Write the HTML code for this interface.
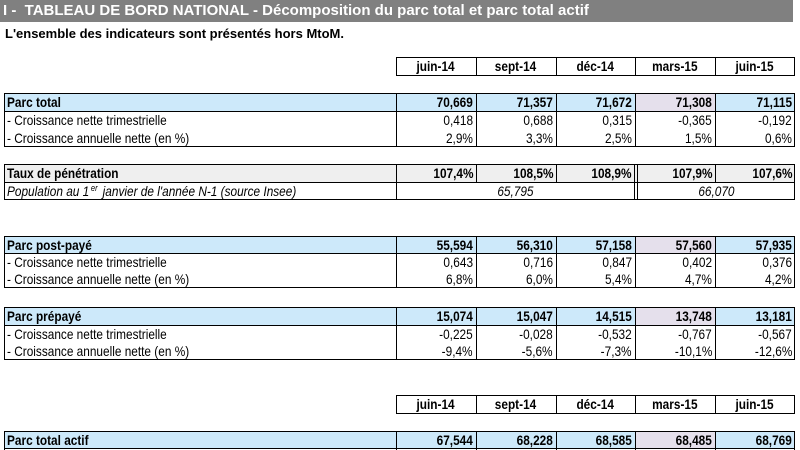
<!DOCTYPE html>
<html><head><meta charset="utf-8"><style>
html,body{margin:0;padding:0;background:#fff}
body{width:800px;height:450px;position:relative;overflow:hidden;font-family:"Liberation Sans",Arial,sans-serif;color:#000}
.bg{position:absolute}
.h{position:absolute;height:1px;background:#000}
.v{position:absolute;width:1px;background:#000}
.c{position:absolute;box-sizing:border-box;height:18px;line-height:18px;font-size:14px;white-space:nowrap}
.L{padding-left:3px;text-align:left}
.L span{display:inline-block;transform:scaleX(.845);transform-origin:0 50%}
.R{text-align:right;padding-right:3px}
.R span{display:inline-block;transform:scaleX(.845);transform-origin:100% 50%}
.M{text-align:center}
.M span{display:inline-block;transform:scaleX(.845);transform-origin:50% 50%}
.b{font-weight:bold}
.i{font-style:italic}
sup{font-size:9px;line-height:0;vertical-align:5px;margin-left:2px;margin-right:2px}
.w80{width:80px}.w79{width:79px}
</style></head><body>

<!-- Title bar -->
<div class="bg" style="left:0;top:0;width:793px;height:22px;background:#808080"></div>
<div style="position:absolute;left:3px;top:1px;font-size:15px;line-height:20px;font-weight:bold;color:#fff;white-space:nowrap">I -&nbsp; TABLEAU DE BORD NATIONAL - Décomposition du parc total et parc total actif</div>
<div style="position:absolute;left:5px;top:26px;font-size:13px;line-height:15px;font-weight:bold;white-space:nowrap">L'ensemble des indicateurs sont présentés hors MtoM.</div>

<!-- Header 1 -->
<div class="h" style="left:396px;top:57px;width:399px"></div>
<div class="h" style="left:396px;top:75px;width:399px"></div>
<div class="v" style="left:396px;top:57px;height:19px"></div>
<div class="v" style="left:476px;top:57px;height:19px"></div>
<div class="v" style="left:556px;top:57px;height:19px"></div>
<div class="v" style="left:635px;top:57px;height:19px"></div>
<div class="v" style="left:715px;top:57px;height:19px"></div>
<div class="v" style="left:794px;top:57px;height:19px"></div>
<div class="c M b w80" style="left:396px;top:57px"><span>juin-14</span></div>
<div class="c M b w80" style="left:476px;top:57px"><span>sept-14</span></div>
<div class="c M b w79" style="left:556px;top:57px"><span>déc-14</span></div>
<div class="c M b w80" style="left:635px;top:57px"><span>mars-15</span></div>
<div class="c M b w80" style="left:715px;top:57px"><span>juin-15</span></div>

<!-- Table 1: Parc total -->
<div class="bg" style="left:4px;top:93px;width:791px;height:18px;background:#cde9fa"></div>
<div class="bg" style="left:635px;top:93px;width:80px;height:18px;background:#e5e0ec"></div>
<div class="h" style="left:4px;top:93px;width:791px"></div>
<div class="h" style="left:4px;top:111px;width:791px"></div>
<div class="h" style="left:4px;top:146px;width:791px"></div>
<div class="v" style="left:4px;top:93px;height:54px"></div>
<div class="v" style="left:396px;top:93px;height:54px"></div>
<div class="v" style="left:476px;top:93px;height:54px"></div>
<div class="v" style="left:556px;top:93px;height:54px"></div>
<div class="v" style="left:635px;top:93px;height:54px"></div>
<div class="v" style="left:715px;top:93px;height:54px"></div>
<div class="v" style="left:794px;top:93px;height:54px"></div>
<div class="c L b" style="left:4px;top:93px;width:392px"><span>Parc total</span></div>
<div class="c R b w80" style="left:396px;top:93px"><span>70,669</span></div>
<div class="c R b w80" style="left:476px;top:93px"><span>71,357</span></div>
<div class="c R b w79" style="left:556px;top:93px"><span>71,672</span></div>
<div class="c R b w80" style="left:635px;top:93px"><span>71,308</span></div>
<div class="c R b w80" style="left:715px;top:93px"><span>71,115</span></div>
<div class="c L" style="left:4px;top:111px;width:392px"><span>- Croissance nette trimestrielle</span></div>
<div class="c R w80" style="left:396px;top:111px"><span>0,418</span></div>
<div class="c R w80" style="left:476px;top:111px"><span>0,688</span></div>
<div class="c R w79" style="left:556px;top:111px"><span>0,315</span></div>
<div class="c R w80" style="left:635px;top:111px"><span>-0,365</span></div>
<div class="c R w80" style="left:715px;top:111px"><span>-0,192</span></div>
<div class="c L" style="left:4px;top:129px;width:392px"><span>- Croissance annuelle nette (en %)</span></div>
<div class="c R w80" style="left:396px;top:129px"><span>2,9%</span></div>
<div class="c R w80" style="left:476px;top:129px"><span>3,3%</span></div>
<div class="c R w79" style="left:556px;top:129px"><span>2,5%</span></div>
<div class="c R w80" style="left:635px;top:129px"><span>1,5%</span></div>
<div class="c R w80" style="left:715px;top:129px"><span>0,6%</span></div>

<!-- Table 2: Taux -->
<div class="bg" style="left:4px;top:164px;width:791px;height:18px;background:#efefef"></div>
<div class="h" style="left:4px;top:164px;width:791px"></div>
<div class="h" style="left:4px;top:182px;width:791px"></div>
<div class="h" style="left:4px;top:199px;width:791px"></div>
<div class="v" style="left:4px;top:164px;height:36px"></div>
<div class="v" style="left:396px;top:164px;height:36px"></div>
<div class="v" style="left:476px;top:164px;height:18px"></div>
<div class="v" style="left:556px;top:164px;height:18px"></div>
<div class="v" style="left:634px;top:164px;height:36px"></div>
<div class="v" style="left:637px;top:164px;height:36px"></div>
<div class="v" style="left:715px;top:164px;height:18px"></div>
<div class="v" style="left:794px;top:164px;height:36px"></div>
<div class="c L b" style="left:4px;top:164px;width:392px"><span>Taux de pénétration</span></div>
<div class="c R b w80" style="left:396px;top:164px"><span>107,4%</span></div>
<div class="c R b w80" style="left:476px;top:164px"><span>108,5%</span></div>
<div class="c R b" style="left:556px;top:164px;width:78px"><span>108,9%</span></div>
<div class="c R b" style="left:637px;top:164px;width:78px"><span>107,9%</span></div>
<div class="c R b w80" style="left:715px;top:164px"><span>107,6%</span></div>
<div class="c L i" style="left:4px;top:182px;width:392px"><span>Population au 1<sup>er</sup> janvier de l'année N-1 (source Insee)</span></div>
<div class="c M i" style="left:396px;top:182px;width:238px"><span>65,795</span></div>
<div class="c M i" style="left:637px;top:182px;width:158px"><span>66,070</span></div>

<!-- Table 3: post-payé -->
<div class="bg" style="left:4px;top:236px;width:791px;height:17px;background:#cde9fa"></div>
<div class="bg" style="left:635px;top:236px;width:80px;height:17px;background:#e5e0ec"></div>
<div class="h" style="left:4px;top:236px;width:791px"></div>
<div class="h" style="left:4px;top:253px;width:791px"></div>
<div class="h" style="left:4px;top:287px;width:791px"></div>
<div class="v" style="left:4px;top:236px;height:52px"></div>
<div class="v" style="left:396px;top:236px;height:52px"></div>
<div class="v" style="left:476px;top:236px;height:52px"></div>
<div class="v" style="left:556px;top:236px;height:52px"></div>
<div class="v" style="left:635px;top:236px;height:52px"></div>
<div class="v" style="left:715px;top:236px;height:52px"></div>
<div class="v" style="left:794px;top:236px;height:52px"></div>
<div class="c L b" style="left:4px;top:236px;width:392px"><span>Parc post-payé</span></div>
<div class="c R b w80" style="left:396px;top:236px"><span>55,594</span></div>
<div class="c R b w80" style="left:476px;top:236px"><span>56,310</span></div>
<div class="c R b w79" style="left:556px;top:236px"><span>57,158</span></div>
<div class="c R b w80" style="left:635px;top:236px"><span>57,560</span></div>
<div class="c R b w80" style="left:715px;top:236px"><span>57,935</span></div>
<div class="c L" style="left:4px;top:253px;width:392px"><span>- Croissance nette trimestrielle</span></div>
<div class="c R w80" style="left:396px;top:253px"><span>0,643</span></div>
<div class="c R w80" style="left:476px;top:253px"><span>0,716</span></div>
<div class="c R w79" style="left:556px;top:253px"><span>0,847</span></div>
<div class="c R w80" style="left:635px;top:253px"><span>0,402</span></div>
<div class="c R w80" style="left:715px;top:253px"><span>0,376</span></div>
<div class="c L" style="left:4px;top:270px;width:392px"><span>- Croissance annuelle nette (en %)</span></div>
<div class="c R w80" style="left:396px;top:270px"><span>6,8%</span></div>
<div class="c R w80" style="left:476px;top:270px"><span>6,0%</span></div>
<div class="c R w79" style="left:556px;top:270px"><span>5,4%</span></div>
<div class="c R w80" style="left:635px;top:270px"><span>4,7%</span></div>
<div class="c R w80" style="left:715px;top:270px"><span>4,2%</span></div>

<!-- Table 4: prépayé -->
<div class="bg" style="left:4px;top:307px;width:791px;height:18px;background:#cde9fa"></div>
<div class="bg" style="left:635px;top:307px;width:80px;height:18px;background:#e5e0ec"></div>
<div class="h" style="left:4px;top:307px;width:791px"></div>
<div class="h" style="left:4px;top:325px;width:791px"></div>
<div class="h" style="left:4px;top:359px;width:791px"></div>
<div class="v" style="left:4px;top:307px;height:53px"></div>
<div class="v" style="left:396px;top:307px;height:53px"></div>
<div class="v" style="left:476px;top:307px;height:53px"></div>
<div class="v" style="left:556px;top:307px;height:53px"></div>
<div class="v" style="left:635px;top:307px;height:53px"></div>
<div class="v" style="left:715px;top:307px;height:53px"></div>
<div class="v" style="left:794px;top:307px;height:53px"></div>
<div class="c L b" style="left:4px;top:307px;width:392px"><span>Parc prépayé</span></div>
<div class="c R b w80" style="left:396px;top:307px"><span>15,074</span></div>
<div class="c R b w80" style="left:476px;top:307px"><span>15,047</span></div>
<div class="c R b w79" style="left:556px;top:307px"><span>14,515</span></div>
<div class="c R b w80" style="left:635px;top:307px"><span>13,748</span></div>
<div class="c R b w80" style="left:715px;top:307px"><span>13,181</span></div>
<div class="c L" style="left:4px;top:325px;width:392px"><span>- Croissance nette trimestrielle</span></div>
<div class="c R w80" style="left:396px;top:325px"><span>-0,225</span></div>
<div class="c R w80" style="left:476px;top:325px"><span>-0,028</span></div>
<div class="c R w79" style="left:556px;top:325px"><span>-0,532</span></div>
<div class="c R w80" style="left:635px;top:325px"><span>-0,767</span></div>
<div class="c R w80" style="left:715px;top:325px"><span>-0,567</span></div>
<div class="c L" style="left:4px;top:342px;width:392px"><span>- Croissance annuelle nette (en %)</span></div>
<div class="c R w80" style="left:396px;top:342px"><span>-9,4%</span></div>
<div class="c R w80" style="left:476px;top:342px"><span>-5,6%</span></div>
<div class="c R w79" style="left:556px;top:342px"><span>-7,3%</span></div>
<div class="c R w80" style="left:635px;top:342px"><span>-10,1%</span></div>
<div class="c R w80" style="left:715px;top:342px"><span>-12,6%</span></div>

<!-- Header 2 -->
<div class="h" style="left:396px;top:395px;width:399px"></div>
<div class="h" style="left:396px;top:413px;width:399px"></div>
<div class="v" style="left:396px;top:395px;height:19px"></div>
<div class="v" style="left:476px;top:395px;height:19px"></div>
<div class="v" style="left:556px;top:395px;height:19px"></div>
<div class="v" style="left:635px;top:395px;height:19px"></div>
<div class="v" style="left:715px;top:395px;height:19px"></div>
<div class="v" style="left:794px;top:395px;height:19px"></div>
<div class="c M b w80" style="left:396px;top:395px"><span>juin-14</span></div>
<div class="c M b w80" style="left:476px;top:395px"><span>sept-14</span></div>
<div class="c M b w79" style="left:556px;top:395px"><span>déc-14</span></div>
<div class="c M b w80" style="left:635px;top:395px"><span>mars-15</span></div>
<div class="c M b w80" style="left:715px;top:395px"><span>juin-15</span></div>

<!-- Table 5: Parc total actif -->
<div class="bg" style="left:4px;top:431px;width:791px;height:18px;background:#cde9fa"></div>
<div class="bg" style="left:635px;top:431px;width:80px;height:18px;background:#e5e0ec"></div>
<div class="h" style="left:4px;top:431px;width:791px"></div>
<div class="h" style="left:4px;top:448px;width:791px"></div>
<div class="v" style="left:4px;top:431px;height:19px"></div>
<div class="v" style="left:396px;top:431px;height:19px"></div>
<div class="v" style="left:476px;top:431px;height:19px"></div>
<div class="v" style="left:556px;top:431px;height:19px"></div>
<div class="v" style="left:635px;top:431px;height:19px"></div>
<div class="v" style="left:715px;top:431px;height:19px"></div>
<div class="v" style="left:794px;top:431px;height:19px"></div>
<div class="c L b" style="left:4px;top:431px;width:392px"><span>Parc total actif</span></div>
<div class="c R b w80" style="left:396px;top:431px"><span>67,544</span></div>
<div class="c R b w80" style="left:476px;top:431px"><span>68,228</span></div>
<div class="c R b w79" style="left:556px;top:431px"><span>68,585</span></div>
<div class="c R b w80" style="left:635px;top:431px"><span>68,485</span></div>
<div class="c R b w80" style="left:715px;top:431px"><span>68,769</span></div>

</body></html>
